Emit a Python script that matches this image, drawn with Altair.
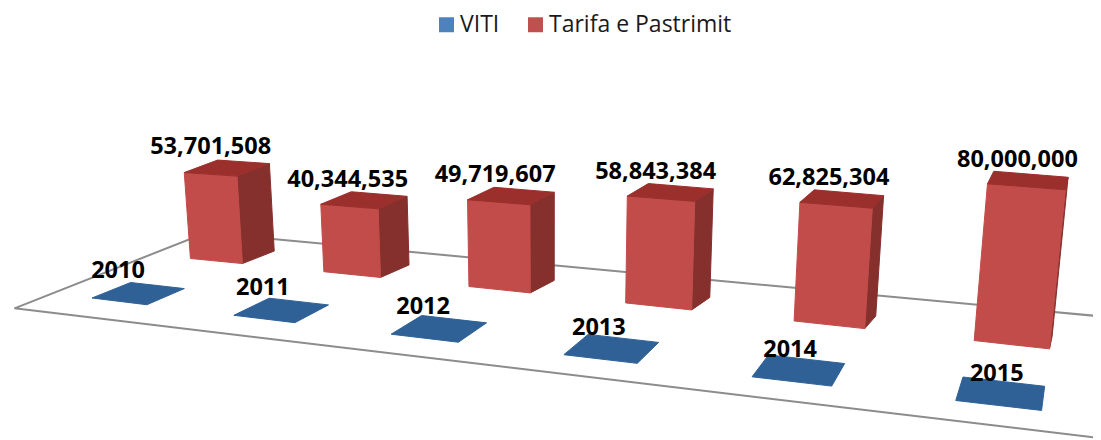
import altair as alt
import pandas as pd

years = ["2010", "2011", "2012", "2013", "2014", "2015"]
revenue = [53701508, 40344535, 49719607, 58843384, 62825304, 80000000]
series = ["VITI", "Tarifa e Pastrimit"]

W, H = 1085, 432
BAR_W = 0.4
VF, VB = 2.55, 3.4
BACK_RISE = 12.5


def floor_point(t, v):
    """Perspective of the tilted floor: t = category position, v = depth."""
    x = 92 + 134.1 * t + 7.73 * t * t + v * (38.6 - 2.55 * t - 0.745 * t * t)
    y = 298 + 16.5 * t + 0.8 * t * t - v * (15.5 + 1.6 * t)
    return x, y


def project(t, v, value=0.0):
    """Floor point raised by a value; the verticals converge upwards."""
    x, y = floor_point(t, v)
    h = value / 1e6 * (1.6 + 0.072 * t)
    return x + (x - 550) * 2e-4 * h, y - h


def back(t, value=0.0):
    """Back edge of a column: its depth shows as a nearly constant rise."""
    x, _ = project(t, VB, value)
    _, y = project(t, VF, value)
    return x, y - BACK_RISE


def poly(name, pts):
    rows = []
    for o, (x, y) in enumerate(pts + pts[:1]):
        rows.append({"face": name, "o": o, "x": x, "y": y})
    return rows


blue, front, top, side, tv, ty = [], [], [], [], [], []
for i, (yr, val) in enumerate(zip(years, revenue)):
    a, b = i, i + BAR_W
    blue += poly(yr, [project(a, 0), project(b, 0), project(b, 1), project(a, 1)])
    fl0, fr0 = project(a, VF), project(b, VF)
    fl1, fr1 = project(a, VF, val), project(b, VF, val)
    front += poly(yr, [fl0, fr0, fr1, fl1])
    side += poly(yr, [fr0, back(b), back(b, val), fr1])
    top += poly(yr, [fl1, fr1, back(b, val), back(a, val)])
    tv.append({"x": (fl1[0] + fr1[0]) / 2 - 1.8 * i,
               "y": (fl1[1] + fr1[1]) / 2 - 27,
               "label": f"{val:,}"})
    fx, fy = project(a, 0)
    ty.append({"x": fx + 26 + 3 * i, "y": fy - 27, "label": yr})

floor_edges = []
for o, p in enumerate([(5.68, -0.85), (-0.29, -1.0), (-0.33, 4.0), (5.63, 4.1)]):
    x, y = project(*p)
    floor_edges.append({"o": o, "x": x, "y": y})

X = alt.X("x:Q", scale=alt.Scale(domain=[8, 8 + W]), axis=None)
Y = alt.Y("y:Q", scale=alt.Scale(domain=[8 + H, 8]), axis=None)


def faces(rows, color):
    return (
        alt.Chart(pd.DataFrame(rows))
        .mark_line(fill=color, stroke=color, strokeWidth=1, clip=True)
        .encode(x=X, y=Y, detail="face:N", order=alt.Order("o:Q"))
    )


def texts(rows):
    return (
        alt.Chart(pd.DataFrame(rows))
        .mark_text(font="Open Sans", fontWeight="bold", fontSize=23.5, color="#000000")
        .encode(x=X, y=Y, text="label:N")
    )


edges = (
    alt.Chart(pd.DataFrame(floor_edges))
    .mark_line(color="#8c8c8c", strokeWidth=2, clip=True)
    .encode(x=X, y=Y, order=alt.Order("o:Q"))
)

legend_layer = (
    alt.Chart(pd.DataFrame({"series": series}))
    .mark_square(size=225, opacity=1)
    .encode(
        x=alt.value(-100),
        y=alt.value(-100),
        color=alt.Color(
            "series:N",
            scale=alt.Scale(domain=series, range=["#4F81BD", "#C0504D"]),
            sort=series,
            legend=alt.Legend(
                title=None,
                orient="none",
                direction="horizontal",
                legendX=427,
                legendY=5,
                symbolType="square",
                symbolSize=225,
                symbolOpacity=1,
                symbolStrokeWidth=0,
                labelFont="Open Sans",
                labelFontSize=23,
                labelColor="#1a1a1a",
                labelLimit=300,
                labelOffset=2,
                columnPadding=24,
                padding=0,
            ),
        ),
    )
)

chart = (
    alt.layer(
        edges,
        faces(blue, "#2F6197"),
        faces(side, "#85302D"),
        faces(front, "#C24C49"),
        faces(top, "#9A2F2C"),
        texts(tv),
        texts(ty),
        legend_layer,
    )
    .properties(width=W, height=H, padding=0, background="#ffffff",
                autosize=alt.AutoSizeParams(type="none"))
    .configure_view(stroke=None)
)

chart.save("out.html", embed_options={"renderer": "svg", "actions": False})
